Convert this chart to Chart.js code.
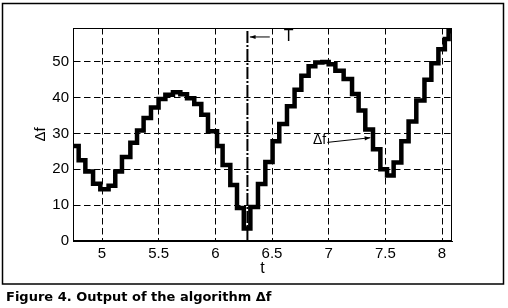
<!DOCTYPE html>
<html lang="en">
<head>
    <meta charset="UTF-8">
    <title>Figure 4</title>
    <style>
        body {
            margin: 0;
            background: #fff;
        }
        #wrap {
            position: relative;
            width: 508px;
            height: 308px;
        }
        #chart {
            position: absolute;
            left: 0;
            top: 0;
        }
        .caption {
            position: absolute;
            left: 6px;
            top: 290px;
            font: bold 13px/14px "DejaVu Sans", sans-serif;
            color: #000;
            white-space: nowrap;
        }
    </style>
    <script src="https://cdn.jsdelivr.net/npm/chart.js"></script>
</head>
<body>
    <div id="wrap">
        <canvas id="chart" width="508" height="308"></canvas>
        <div class="caption">Figure 4. Output of the algorithm Δf</div>
    </div>
    <script>
        // step start times (t) and the held value of Δf for each step
        const stepTimes = [4.744, 4.794, 4.853, 4.921, 4.985, 5.058, 5.117, 5.176, 5.250, 5.309,
            5.367, 5.432, 5.499, 5.559, 5.626, 5.691, 5.750, 5.814, 5.876, 5.935,
            6.015, 6.064, 6.132, 6.191, 6.251, 6.309, 6.376, 6.441, 6.505, 6.564,
            6.632, 6.699, 6.759, 6.823, 6.882, 6.944, 7.000, 7.059, 7.132, 7.206,
            7.264, 7.323, 7.391, 7.456, 7.515, 7.573, 7.641, 7.705, 7.773, 7.845,
            7.906, 7.968, 8.025, 8.058];
        const stepLevels = [26.5, 22.5, 19.4, 16.0, 14.4, 15.4, 19.4, 23.4, 27.4, 30.8,
            34.3, 37.2, 39.6, 40.8, 41.5, 40.9, 39.8, 38.2, 35.2, 30.6,
            26.5, 21.2, 15.6, 9.2, 3.5, 9.5, 15.9, 22.0, 27.8, 32.6,
            37.6, 42.2, 46.1, 48.7, 49.8, 49.9, 49.3, 47.5, 45.2, 41.0,
            36.4, 31.1, 25.6, 20.0, 18.3, 21.9, 27.8, 33.3, 39.2, 45.0,
            49.6, 53.5, 56.3, 58.5];
        const tEnd = 8.088;
        const tMark = 6.283;   // T
        const xTicks = [5, 5.5, 6, 6.5, 7, 7.5, 8];
        const yTicks = [0, 10, 20, 30, 40, 50];
        const xMin = 4.744, xMax = 8.088, yMin = 0, yMax = 59.4;

        const stepData = stepTimes.map((t, i) => ({ x: t, y: stepLevels[i] }));
        stepData.push({ x: tEnd, y: stepLevels[stepLevels.length - 1] });

        Chart.defaults.font.family = '"Liberation Sans", Arial, sans-serif';
        Chart.defaults.color = '#000';

        function arrow(ctx, x1, y1, x2, y2) {
            const a = Math.atan2(y2 - y1, x2 - x1);
            ctx.beginPath();
            ctx.moveTo(x1, y1);
            ctx.lineTo(x2, y2);
            ctx.stroke();
            ctx.beginPath();
            ctx.moveTo(x2, y2);
            ctx.lineTo(x2 - 6 * Math.cos(a - 0.35), y2 - 6 * Math.sin(a - 0.35));
            ctx.lineTo(x2 - 6 * Math.cos(a + 0.35), y2 - 6 * Math.sin(a + 0.35));
            ctx.closePath();
            ctx.fill();
        }

        const annotate = {
            id: 'annotate',
            afterDraw(chart) {
                const { ctx, chartArea: a, scales: { x, y } } = chart;
                ctx.save();
                ctx.strokeStyle = '#000';
                ctx.fillStyle = '#000';
                // axes box
                ctx.lineWidth = 1;
                ctx.strokeRect(a.left + 0.5, a.top + 0.5, a.right - a.left - 1, a.bottom - a.top - 1);
                // outer frame
                ctx.lineWidth = 1.5;
                ctx.strokeRect(2.5, 3.5, 501, 280.5);

                // y axis label
                ctx.save();
                ctx.translate(41, (a.top + a.bottom) / 2);
                ctx.rotate(-Math.PI / 2);
                ctx.font = '15px "Liberation Sans", Arial, sans-serif';
                ctx.textAlign = 'center';
                ctx.textBaseline = 'middle';
                ctx.fillText('Δf', 0, 0);
                ctx.restore();

                // T label
                ctx.lineWidth = 1;
                arrow(ctx, x.getPixelForValue(6.48), y.getPixelForValue(56.9),
                    x.getPixelForValue(6.305), y.getPixelForValue(56.9));
                ctx.font = '16px "Liberation Sans", Arial, sans-serif';
                ctx.textBaseline = 'middle';
                ctx.textAlign = 'left';
                ctx.fillText('T', x.getPixelForValue(6.603), y.getPixelForValue(56.9));

                // Δf label
                arrow(ctx, x.getPixelForValue(6.988), y.getPixelForValue(27.5),
                    x.getPixelForValue(7.367), y.getPixelForValue(28.8));
                ctx.font = '14px "Liberation Sans", Arial, sans-serif';
                ctx.textAlign = 'right';
                ctx.fillText('Δf', x.getPixelForValue(6.978), y.getPixelForValue(28.1));
                ctx.restore();
            }
        };

        new Chart(document.getElementById('chart'), {
            type: 'line',
            data: {
                datasets: [{
                    label: 'T',
                    data: [{ x: tMark, y: yMin }, { x: tMark, y: yMax }],
                    borderColor: '#000',
                    borderWidth: 2,
                    borderDash: [12, 2, 2, 2],
                    pointRadius: 0
                }, {
                    label: 'Δf',
                    data: stepData,
                    borderColor: '#000',
                    borderWidth: 4.5,
                    stepped: 'before',
                    borderJoinStyle: 'miter',
                    borderCapStyle: 'butt',
                    pointRadius: 0
                }]
            },
            options: {
                responsive: false,
                animation: false,
                devicePixelRatio: 1,
                layout: {
                    padding: { left: 0, top: 28, right: 56, bottom: 27 }
                },
                plugins: {
                    legend: { display: false },
                    tooltip: { enabled: false }
                },
                scales: {
                    x: {
                        type: 'linear',
                        min: xMin,
                        max: xMax,
                        afterBuildTicks: s => { s.ticks = xTicks.map(v => ({ value: v })); },
                        afterFit: s => { s.height = 40; },
                        grid: {
                            color: '#000',
                            lineWidth: 1,
                            drawTicks: false
                        },
                        border: { display: true, color: '#000', dash: [6.5, 3.5] },
                        ticks: {
                            padding: 4,
                            font: { size: 15 },
                            callback: v => String(v)
                        },
                        title: {
                            display: true,
                            text: 't',
                            font: { size: 16 },
                            padding: { top: 0, bottom: 3 }
                        }
                    },
                    y: {
                        min: yMin,
                        max: yMax,
                        afterBuildTicks: s => { s.ticks = yTicks.map(v => ({ value: v })); },
                        afterFit: s => { s.width = 73; },
                        grid: {
                            color: '#000',
                            lineWidth: 1,
                            drawTicks: false
                        },
                        border: { display: true, color: '#000', dash: [6.5, 3.5] },
                        ticks: {
                            padding: 4,
                            font: { size: 15 },
                            callback: v => String(v)
                        }
                    }
                }
            },
            plugins: [annotate]
        });
    </script>
</body>
</html>
